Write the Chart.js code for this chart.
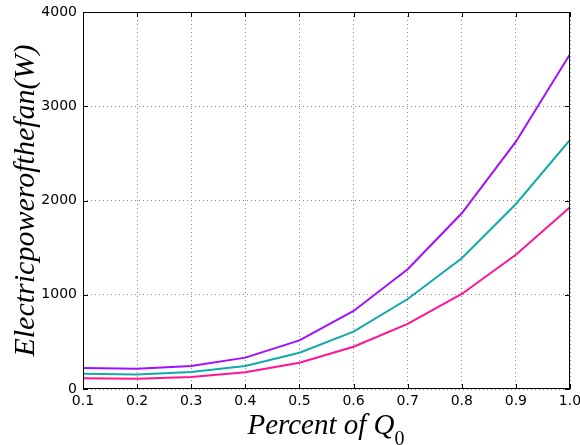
<!DOCTYPE html>
<html>
<head>
<meta charset="utf-8">
<script src="https://cdn.jsdelivr.net/npm/chart.js@4/dist/chart.umd.min.js"></script>
<style>
  html, body { margin: 0; padding: 0; background: #fff; }
  #wrap { width: 580px; height: 445px; }
</style>
</head>
<body>
<div id="wrap"><canvas id="fanChart" width="580" height="445"></canvas></div>
<script>
// percent of Q0
const percents = [0.1, 0.2, 0.3, 0.4, 0.5, 0.6, 0.7, 0.8, 0.9, 1.0];
// electric power of the fan (W)
const powerTop = [223, 216, 244, 333, 516, 828, 1270, 1864, 2624, 3552];
const powerMid = [163, 155, 180, 244, 385, 608, 955, 1387, 1963, 2642];
const powerLow = [113, 110, 127, 177, 279, 449, 690, 1008, 1425, 1928];
const yTicks = [0, 1000, 2000, 3000, 4000];

const toPoints = arr => arr.map((v, i) => ({ x: percents[i], y: v }));

// frame, inward tick marks and axis titles
const framePlugin = {
    id: 'frame',
    afterDraw(chart) {
        const { ctx, chartArea: a, scales } = chart;
        ctx.save();
        ctx.strokeStyle = '#000';
        ctx.lineWidth = 1;
        ctx.strokeRect(a.left + 0.5, a.top + 0.5, a.right - a.left - 1, a.bottom - a.top - 1);

        ctx.beginPath();
        percents.forEach(p => {
            const x = Math.round(scales.x.getPixelForValue(p)) + 0.5;
            ctx.moveTo(x, a.bottom); ctx.lineTo(x, a.bottom - 5);
            ctx.moveTo(x, a.top); ctx.lineTo(x, a.top + 5);
        });
        yTicks.forEach(t => {
            const y = Math.round(scales.y.getPixelForValue(t)) + 0.5;
            ctx.moveTo(a.left, y); ctx.lineTo(a.left + 5, y);
            ctx.moveTo(a.right, y); ctx.lineTo(a.right - 5, y);
        });
        ctx.stroke();

        ctx.fillStyle = '#000';
        ctx.font = 'italic 29px "Liberation Serif", serif';
        ctx.textAlign = 'center';
        ctx.textBaseline = 'alphabetic';
        const cx = (a.left + a.right) / 2;
        const main = 'Percent of Q';
        const w = ctx.measureText(main).width;
        const subW = 11;
        ctx.fillText(main, cx - subW / 2, 434);
        ctx.font = '20px "Liberation Serif", serif';
        ctx.textAlign = 'left';
        ctx.fillText('0', cx - subW / 2 + w / 2, 445);

        ctx.translate(34, (a.top + a.bottom) / 2);
        ctx.rotate(-Math.PI / 2);
        ctx.font = 'italic 30px "Liberation Serif", serif';
        ctx.textAlign = 'center';
        ctx.fillText('Electricpowerofthefan(W)', 0, 0);
        ctx.restore();
    }
};

const ctx = document.getElementById('fanChart').getContext('2d');
new Chart(ctx, {
    type: 'line',
    data: {
        datasets: [
            { data: toPoints(powerTop), borderColor: '#a20fff', borderWidth: 2 },
            { data: toPoints(powerMid), borderColor: '#12aaa8', borderWidth: 2 },
            { data: toPoints(powerLow), borderColor: '#ff1493', borderWidth: 2 }
        ]
    },
    options: {
        responsive: false,
        animation: false,
        layout: { padding: { top: 12, right: 10, left: 0, bottom: 0 } },
        elements: { point: { radius: 0 }, line: { tension: 0 } },
        plugins: { legend: { display: false }, tooltip: { enabled: false } },
        scales: {
            x: {
                type: 'linear',
                min: 0.1,
                max: 1.0,
                afterFit: s => { s.height = 56; s.paddingRight = 0; s.paddingLeft = 0; },
                afterBuildTicks: s => { s.ticks = percents.map(v => ({ value: v })); },
                grid: { color: '#888', drawTicks: false },
                border: { display: false, dash: [1, 3] },
                ticks: {
                    padding: 4,
                    color: '#000',
                    font: { family: 'DejaVu Sans', size: 14 },
                    callback: v => v.toFixed(1)
                }
            },
            y: {
                min: 0,
                max: 4000,
                afterFit: s => { s.width = 83; s.paddingTop = 0; s.paddingBottom = 0; },
                afterBuildTicks: s => { s.ticks = yTicks.map(v => ({ value: v })); },
                grid: { color: '#888', drawTicks: false },
                border: { display: false, dash: [1, 3] },
                ticks: {
                    padding: 6,
                    color: '#000',
                    font: { family: 'DejaVu Sans', size: 14 },
                    callback: v => String(v)
                }
            }
        }
    },
    plugins: [framePlugin]
});
</script>
</body>
</html>
